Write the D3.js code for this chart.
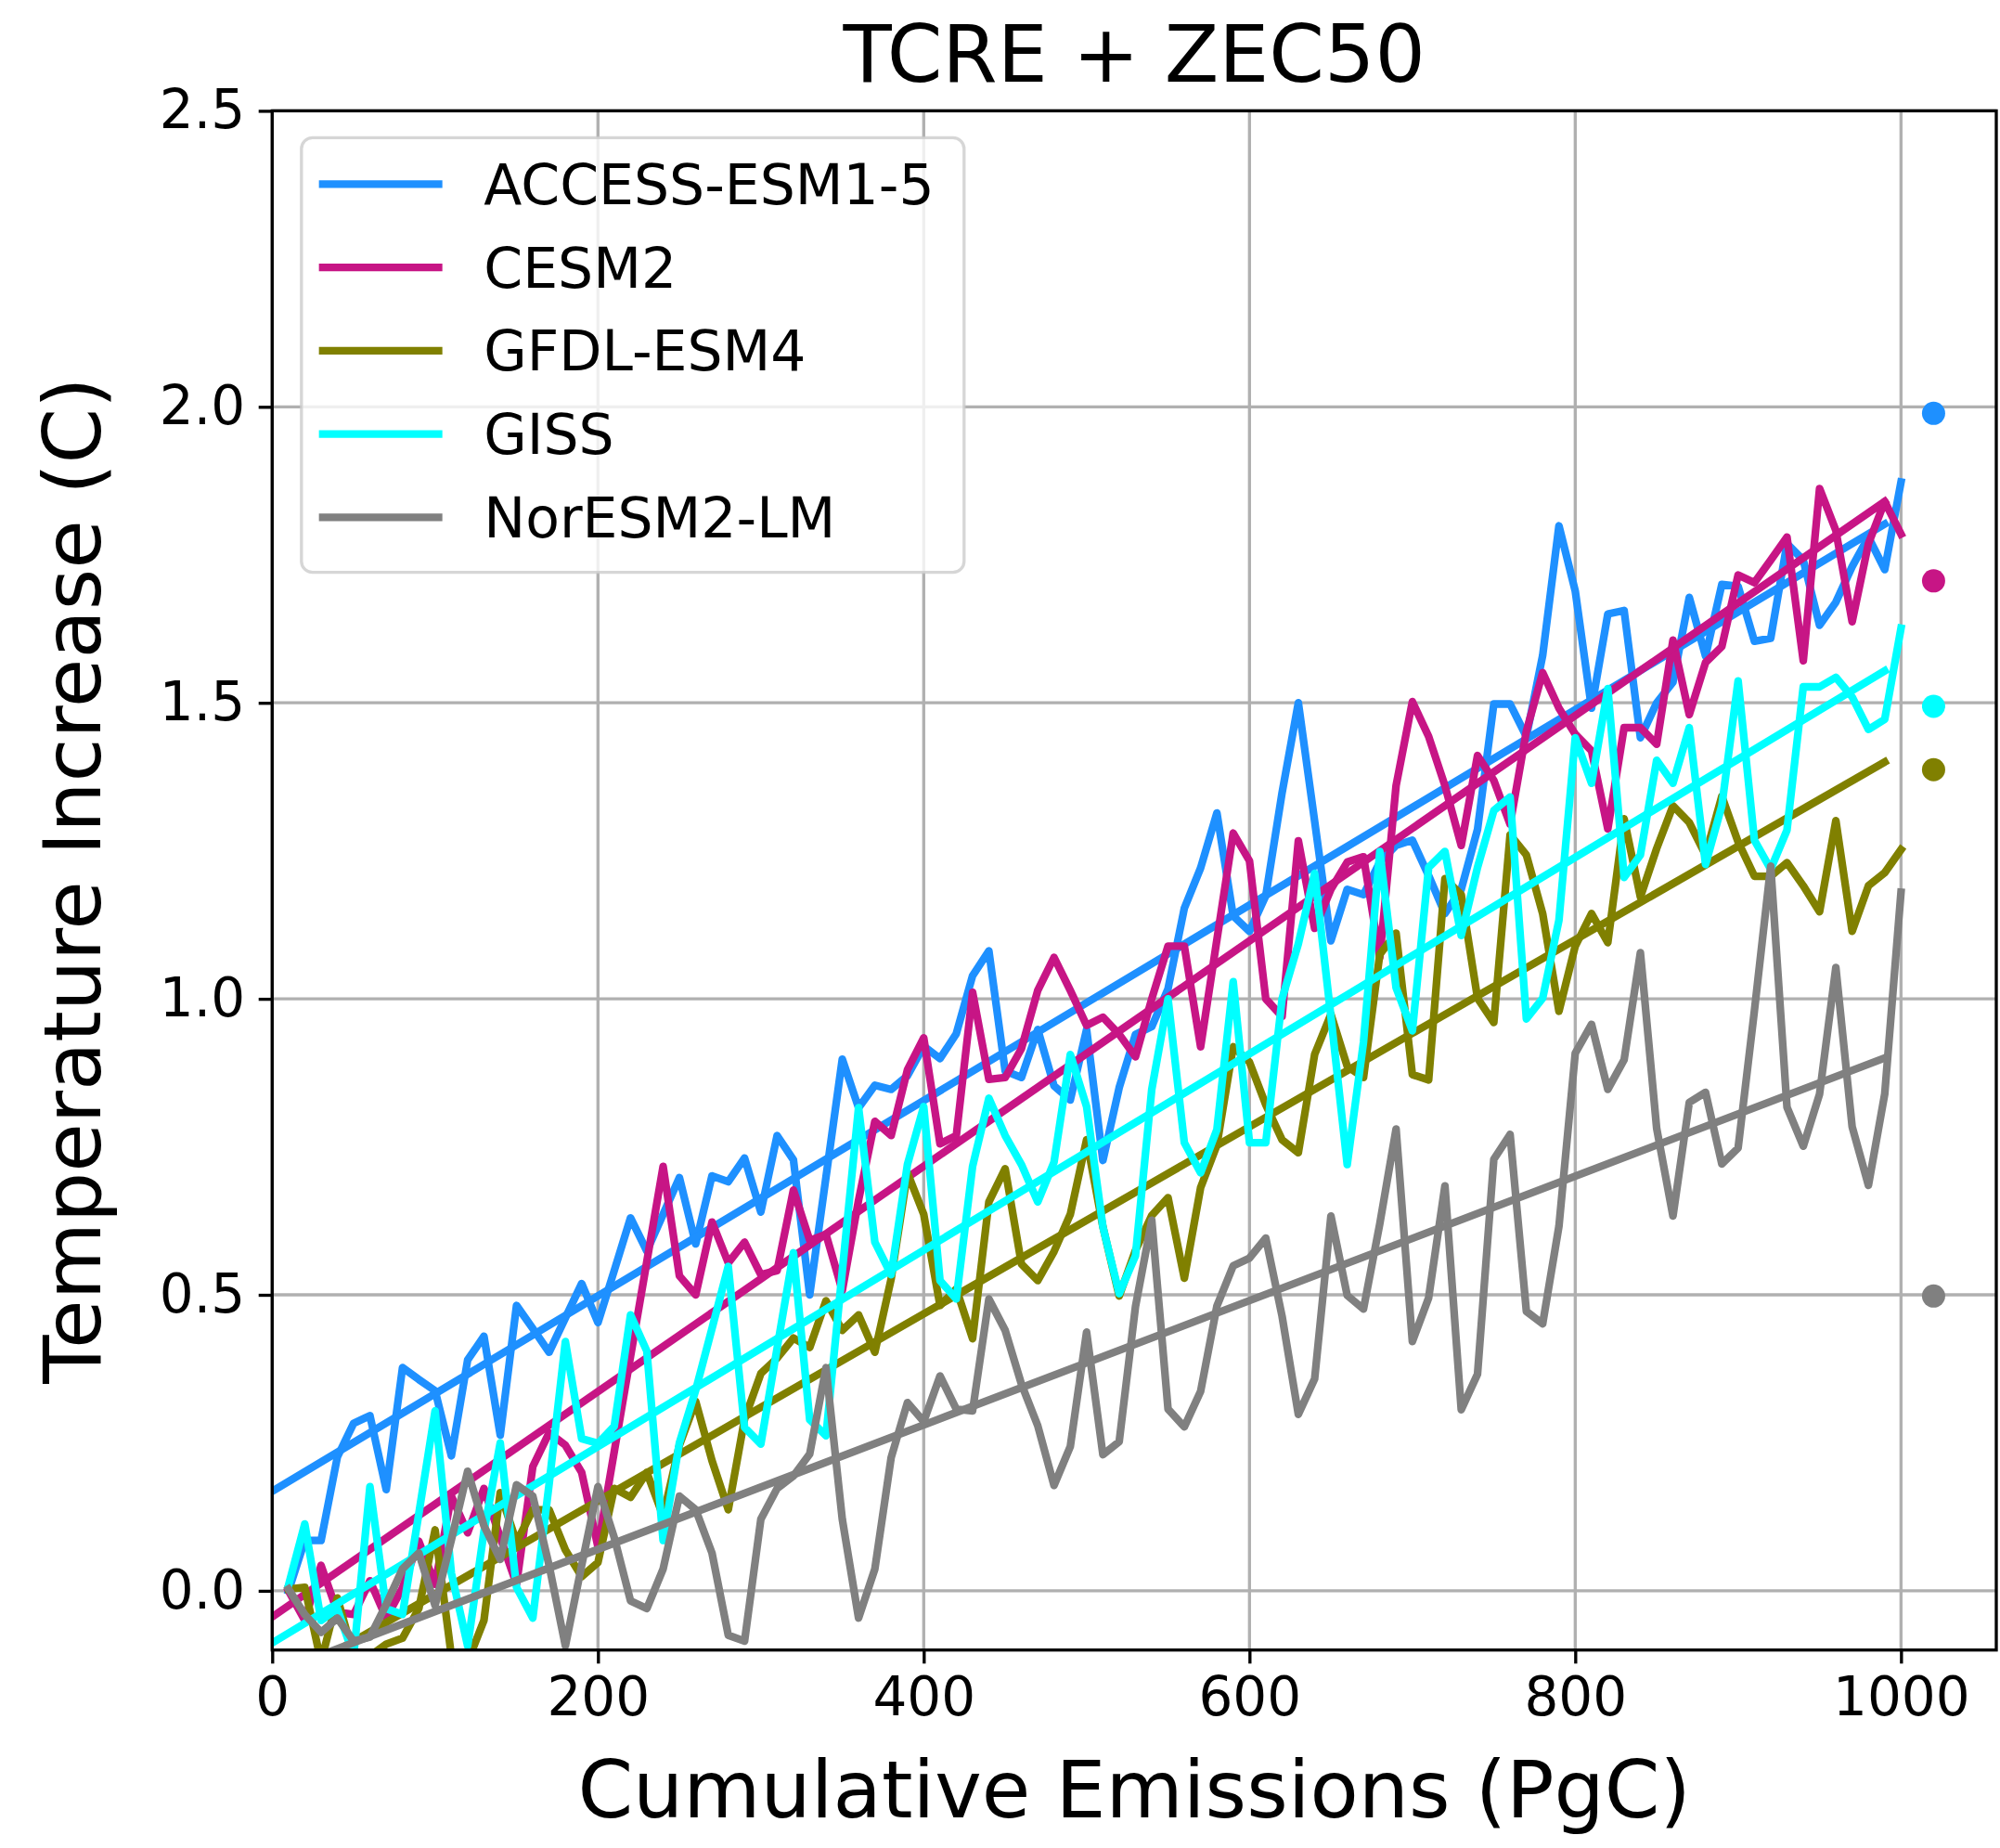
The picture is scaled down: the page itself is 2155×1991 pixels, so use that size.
<!DOCTYPE html>
<html>
<head>
<meta charset="utf-8">
<script src="https://cdn.jsdelivr.net/npm/d3@7"></script>
<style>
  html, body { margin: 0; padding: 0; background: #ffffff; }
  svg { display: block; }
  text { font-family: "DejaVu Sans", sans-serif; fill: #000; }
</style>
</head>
<body>
<svg id="chart" width="2155" height="1991"></svg>
<script>
// Cumulative emissions grid (PgC) shared by every model series
const emissions = [10,20,30,40,50,60,70,80,90,100,110,120,130,140,150,160,170,180,190,200,
  210,220,230,240,250,260,270,280,290,300,310,320,330,340,350,360,370,380,390,400,
  410,420,430,440,450,460,470,480,490,500,510,520,530,540,550,560,570,580,590,600,
  610,620,630,640,650,660,670,680,690,700,710,720,730,740,750,760,770,780,790,800,
  810,820,830,840,850,860,870,880,890,900,910,920,930,940,950,960,970,980,990,1000];

const models = ["ACCESS-ESM1-5", "CESM2", "GFDL-ESM4", "GISS", "NorESM2-LM"];
const modelColors = ["#1e90ff", "#c71585", "#808000", "#00ffff", "#808080"];

// Temperature increase (C) along the emissions grid
const accessTemp = [0.00,0.085,0.085,0.226,0.283,0.296,0.171,0.377,0.357,0.338,
  0.228,0.390,0.430,0.263,0.482,0.443,0.403,0.461,0.519,0.453,
  0.541,0.630,0.574,0.636,0.698,0.586,0.701,0.691,0.731,0.640,
  0.769,0.728,0.500,0.699,0.898,0.816,0.854,0.847,0.870,0.920,
  0.899,0.941,1.039,1.081,0.878,0.867,0.948,0.853,0.829,0.948,
  0.727,0.850,0.940,0.953,1.017,1.153,1.221,1.314,1.140,1.114,
  1.174,1.348,1.500,1.300,1.098,1.185,1.176,1.231,1.259,1.268,
  1.208,1.144,1.185,1.286,1.498,1.498,1.443,1.580,1.799,1.689,
  1.491,1.650,1.656,1.441,1.500,1.535,1.678,1.579,1.700,1.697,
  1.604,1.609,1.769,1.741,1.631,1.670,1.730,1.780,1.725,1.873];

const cesmTemp = [0.00,-0.05,0.043,-0.036,-0.04,0.017,-0.046,0.005,0.084,0.011,
  0.160,0.098,0.173,0.090,0.011,0.210,0.267,0.246,0.200,0.074,
  0.235,0.396,0.556,0.717,0.532,0.500,0.623,0.554,0.589,0.534,
  0.541,0.677,0.592,0.602,0.507,0.660,0.793,0.769,0.880,0.934,
  0.755,0.769,1.011,0.864,0.867,0.916,1.014,1.070,1.014,0.955,
  0.969,0.940,0.902,1.000,1.089,1.089,0.919,1.100,1.280,1.233,
  1.000,0.970,1.267,1.119,1.185,1.231,1.240,1.070,1.360,1.502,
  1.443,1.360,1.259,1.411,1.369,1.295,1.452,1.551,1.491,1.447,
  1.419,1.287,1.458,1.458,1.430,1.606,1.480,1.568,1.595,1.716,
  1.703,1.741,1.780,1.571,1.862,1.791,1.637,1.769,1.840,1.785];

const gfdlTemp = [0.003,0.006,-0.12,-0.012,-0.11,-0.11,-0.09,-0.08,-0.03,0.103,
  -0.11,-0.12,-0.05,0.166,0.082,0.137,0.137,0.069,0.024,0.048,
  0.173,0.158,0.200,0.126,0.246,0.320,0.220,0.137,0.290,0.367,
  0.393,0.427,0.411,0.490,0.440,0.466,0.403,0.527,0.706,0.636,
  0.482,0.510,0.426,0.657,0.713,0.552,0.524,0.573,0.636,0.762,
  0.615,0.498,0.575,0.634,0.664,0.528,0.681,0.753,0.919,0.893,
  0.821,0.762,0.740,0.906,0.974,0.886,0.867,1.075,1.111,0.872,
  0.863,1.203,1.176,1.001,0.960,1.277,1.243,1.144,0.979,1.089,
  1.144,1.095,1.304,1.172,1.254,1.326,1.298,1.243,1.342,1.265,
  1.207,1.207,1.230,1.191,1.147,1.301,1.114,1.191,1.213,1.252];

const gissTemp = [0.009,0.113,-0.05,-0.03,-0.11,0.176,-0.03,-0.04,0.130,0.304,
  0.030,-0.093,0.100,0.250,0.006,-0.046,0.180,0.421,0.257,0.249,
  0.278,0.466,0.405,0.085,0.250,0.339,0.443,0.548,0.276,0.248,
  0.410,0.571,0.289,0.262,0.540,0.816,0.589,0.534,0.720,0.818,
  0.524,0.493,0.717,0.832,0.769,0.720,0.657,0.724,0.906,0.818,
  0.615,0.502,0.566,0.847,1.000,0.757,0.706,0.779,1.029,0.757,
  0.757,1.000,1.093,1.212,0.970,0.720,0.927,1.249,1.019,0.946,
  1.222,1.249,1.107,1.222,1.318,1.341,0.966,1.001,1.133,1.441,
  1.364,1.524,1.205,1.243,1.403,1.364,1.458,1.227,1.326,1.537,
  1.268,1.219,1.285,1.527,1.527,1.543,1.510,1.455,1.472,1.626];

const noresmTemp = [0.003,-0.04,-0.07,-0.046,-0.085,-0.078,-0.023,0.037,0.064,-0.025,
  0.086,0.202,0.110,0.053,0.179,0.160,0.043,-0.093,0.043,0.176,
  0.090,-0.017,-0.030,0.037,0.160,0.137,0.064,-0.075,-0.085,0.121,
  0.173,0.194,0.231,0.377,0.121,-0.046,0.037,0.225,0.318,0.286,
  0.363,0.307,0.304,0.493,0.440,0.349,0.279,0.178,0.244,0.437,
  0.230,0.252,0.480,0.626,0.307,0.277,0.337,0.481,0.549,0.562,
  0.596,0.464,0.298,0.358,0.633,0.499,0.476,0.620,0.780,0.421,
  0.495,0.684,0.306,0.366,0.729,0.771,0.472,0.451,0.616,0.908,
  0.957,0.847,0.897,1.078,0.781,0.633,0.825,0.842,0.721,0.748,
  0.980,1.224,0.817,0.751,0.839,1.053,0.784,0.685,0.839,1.180];

// Linear TCRE fits: value at the start and end of the fitted emissions range
const trendRange = [0, 990];
const trendStart = [0.168, -0.044, -0.164, -0.088, -0.140];
const trendEnd = [1.802, 1.840, 1.400, 1.554, 0.900];

// TCRE + ZEC50 estimate, plotted beside the series
const zecEmission = 1020;
const zec50 = [1.989, 1.706, 1.387, 1.494, 0.498];

const xTicks = [0, 200, 400, 600, 800, 1000];
const yTicks = [0.0, 0.5, 1.0, 1.5, 2.0, 2.5];
const xDomain = [0, 1058.5];
const yDomain = [-0.1, 2.5];

const series = [accessTemp, cesmTemp, gfdlTemp, gissTemp, noresmTemp];

// ---- layout ----
const plot = { left: 293.3, right: 2151, top: 119.4, bottom: 1777.7 };
const lw = 8.3;           // data line width
const axisLw = 3.33;      // spine / tick width
const tickLen = 14.6;
const tickFont = 58;
const labelFont = 85.5;

const svg = d3.select("#chart");

const x = d3.scaleLinear().domain(xDomain).range([plot.left, plot.right]);
const y = d3.scaleLinear().domain(yDomain).range([plot.bottom, plot.top]);

svg.append("defs").append("clipPath").attr("id", "plotClip")
  .append("rect")
  .attr("x", plot.left).attr("y", plot.top)
  .attr("width", plot.right - plot.left).attr("height", plot.bottom - plot.top);

// grid
const grid = svg.append("g").attr("stroke", "#b0b0b0").attr("stroke-width", axisLw);
grid.selectAll("line.gx").data(xTicks).join("line")
  .attr("x1", d => x(d)).attr("x2", d => x(d))
  .attr("y1", plot.top).attr("y2", plot.bottom);
grid.selectAll("line.gy").data(yTicks).join("line")
  .attr("x1", plot.left).attr("x2", plot.right)
  .attr("y1", d => y(d)).attr("y2", d => y(d));

// data
const dataLayer = svg.append("g").attr("clip-path", "url(#plotClip)");
const line = d3.line().x((d, i) => x(emissions[i])).y(d => y(d));

models.forEach((m, k) => {
  dataLayer.append("path")
    .datum(series[k])
    .attr("d", line)
    .attr("fill", "none")
    .attr("stroke", modelColors[k])
    .attr("stroke-width", lw)
    .attr("stroke-linejoin", "round")
    .attr("stroke-linecap", "square");

  dataLayer.append("line")
    .attr("x1", x(trendRange[0])).attr("y1", y(trendStart[k]))
    .attr("x2", x(trendRange[1])).attr("y2", y(trendEnd[k]))
    .attr("stroke", modelColors[k])
    .attr("stroke-width", lw)
    .attr("stroke-linecap", "square");

  dataLayer.append("circle")
    .attr("cx", x(zecEmission)).attr("cy", y(zec50[k]))
    .attr("r", 12.5)
    .attr("fill", modelColors[k]);
});

// axes
const xAxis = d3.axisBottom(x).tickValues(xTicks).tickFormat(d3.format("d"))
  .tickSize(tickLen).tickPadding(14.6);
const yAxis = d3.axisLeft(y).tickValues(yTicks).tickFormat(d3.format(".1f"))
  .tickSize(tickLen).tickPadding(14.6);

const gx = svg.append("g").attr("transform", `translate(0,${plot.bottom})`).call(xAxis);
const gy = svg.append("g").attr("transform", `translate(${plot.left},0)`).call(yAxis);
[gx, gy].forEach(g => {
  g.select(".domain").remove();
  g.selectAll(".tick line").attr("stroke", "#000").attr("stroke-width", axisLw);
  g.selectAll(".tick text")
    .attr("font-family", "DejaVu Sans")
    .attr("font-size", tickFont)
    .attr("fill", "#000");
});

// spines
svg.append("rect")
  .attr("x", plot.left).attr("y", plot.top)
  .attr("width", plot.right - plot.left).attr("height", plot.bottom - plot.top)
  .attr("fill", "none").attr("stroke", "#000").attr("stroke-width", axisLw);

// legend
const leg = { x: 324.8, y: 148.3, w: 714, h: 468.4, row: 89.75 };
const lg = svg.append("g");
lg.append("rect")
  .attr("x", leg.x).attr("y", leg.y).attr("width", leg.w).attr("height", leg.h)
  .attr("rx", 12).attr("ry", 12)
  .attr("fill", "#ffffff").attr("fill-opacity", 0.8)
  .attr("stroke", "#cccccc").attr("stroke-opacity", 0.8).attr("stroke-width", axisLw);
models.forEach((m, k) => {
  const cy = 198.3 + k * leg.row;
  lg.append("line")
    .attr("x1", 347.8).attr("x2", 472.5).attr("y1", cy).attr("y2", cy)
    .attr("stroke", modelColors[k]).attr("stroke-width", lw).attr("stroke-linecap", "square");
  lg.append("text")
    .attr("x", 521.3).attr("y", cy + 21.5)
    .attr("font-size", 60)
    .text(m);
});

// titles
svg.append("text")
  .attr("x", (plot.left + plot.right) / 2).attr("y", 88)
  .attr("text-anchor", "middle").attr("font-size", labelFont)
  .text("TCRE + ZEC50");

svg.append("text")
  .attr("x", (plot.left + plot.right) / 2).attr("y", 1958)
  .attr("text-anchor", "middle").attr("font-size", labelFont)
  .text("Cumulative Emissions (PgC)");

svg.append("text")
  .attr("transform", `translate(108,${(plot.top + plot.bottom) / 2}) rotate(-90)`)
  .attr("text-anchor", "middle").attr("font-size", labelFont)
  .text("Temperature Increase (C)");
</script>
</body>
</html>
